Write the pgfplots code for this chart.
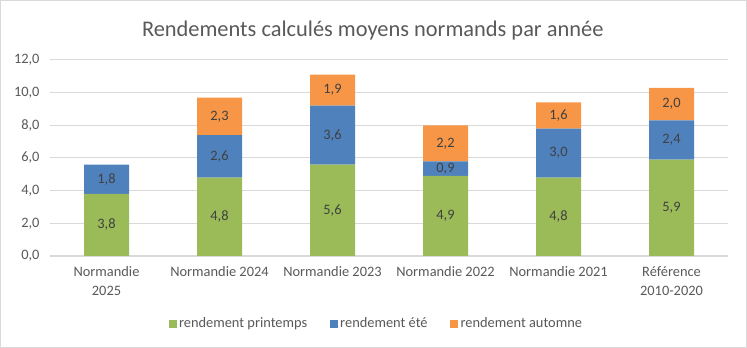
\documentclass[border=0pt]{standalone}
\usepackage{pgfplots}
\pgfplotsset{compat=1.18}
\usepackage{pgfplotstable}
\usepackage{fontspec}
\setmainfont{Carlito}
\definecolor{cgreen}{HTML}{9BBB59}
\definecolor{cblue}{HTML}{4F81BD}
\definecolor{corange}{HTML}{F79646}
\definecolor{ctxt}{HTML}{595959}
\definecolor{clab}{HTML}{404040}
\definecolor{cgrid}{HTML}{D9D9D9}
\pgfplotstableread{
x p e a
0 3.8 1.8 0
1 4.8 2.6 2.3
2 5.6 3.6 1.9
3 4.9 0.9 2.2
4 4.8 3.0 1.6
5 5.9 2.4 2.0
}\data
\newcommand{\lblfont}{\fontsize{14.45}{19.5}\selectfont}
\pgfkeys{
  /tikz/check for zero/.code={%
    \pgfmathfloatifflags{\pgfplotspointmeta}{0}{\pgfkeys{/tikz/coordinate}}{}%
  },
}
\begin{document}
\begin{tikzpicture}
\useasboundingbox (0,0) rectangle (747bp,348bp);
\draw[cgrid, line width=1bp] (0.5bp,0.5bp) rectangle (746.5bp,347.5bp);
\begin{axis}[
  at={(50bp,92bp)}, anchor=south west,
  scale only axis, width=678bp, height=196bp,
  ybar stacked, bar width=45bp,
  xmin=-0.5, xmax=5.5, ymin=0, ymax=12,
  xtick={0,1,2,3,4,5},
  xticklabels={{Normandie\\2025},{Normandie 2024},{Normandie 2023},{Normandie 2022},{Normandie 2021},{Référence\\2010-2020}},
  ytick={0,2,4,6,8,10,12},
  ymajorgrids, grid style={cgrid, line width=1bp},
  axis line style={draw=none},
  tick style={draw=none},
  yticklabel style={/pgf/number format/fixed, /pgf/number format/fixed zerofill, /pgf/number format/precision=1, /pgf/number format/use comma, /pgf/number format/assume math mode=true,
    text=ctxt, font=\lblfont, xshift=-7bp},
  xticklabel style={text=ctxt, font=\lblfont, align=center, yshift=-7bp},
  title={Rendements calculés moyens normands par année},
  title style={at={(0.476,1.122)}, anchor=center, font=\fontsize{22.48}{26}\selectfont, text=ctxt},
  legend style={at={(0.4816,-0.345)}, anchor=center, draw=none, legend columns=3,
    font=\lblfont, text=ctxt, nodes={inner sep=2.5bp},
    /tikz/every even column/.append style={column sep=20bp}},
  legend image code/.code={\fill[#1] (0bp,-4bp) rectangle (8bp,4bp);},
  point meta=rawy,
  every node near coord/.append style={check for zero, anchor=center, font=\lblfont, text=clab},
  nodes near coords={\pgfmathprintnumber[fixed,fixed zerofill,precision=1,use comma,assume math mode=true]{\pgfplotspointmeta}},
]
\addplot[fill=cgreen, draw=none] table[x=x,y=p]{\data};
\addplot[fill=cblue, draw=none] table[x=x,y=e]{\data};
\addplot[fill=corange, draw=none] table[x=x,y=a]{\data};
\legend{rendement printemps, rendement été, rendement automne}
\end{axis}
\end{tikzpicture}
\end{document}
